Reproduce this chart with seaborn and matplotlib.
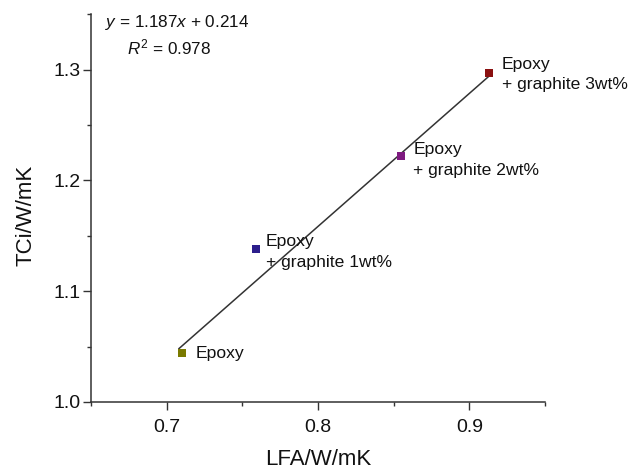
import matplotlib
matplotlib.use("Agg")
import matplotlib.pyplot as plt
import seaborn as sns
import pandas as pd
from matplotlib.ticker import MultipleLocator

sns.set_style("ticks")
plt.rcParams['font.family'] = ['Liberation Sans', 'DejaVu Sans']
plt.rcParams['mathtext.fontset'] = 'custom'
plt.rcParams['mathtext.rm'] = 'Liberation Sans'
plt.rcParams['mathtext.it'] = 'Liberation Sans:italic'

samples = ["Epoxy", "Epoxy\n+ graphite 1wt%", "Epoxy\n+ graphite 2wt%", "Epoxy\n+ graphite 3wt%"]
lfa = [0.710, 0.759, 0.855, 0.913]
tci = [1.044, 1.138, 1.222, 1.297]
colors = ["#7a7a00", "#2c1e8c", "#7e1a80", "#8a1010"]
fit_x = [0.708, 0.913]
fit_y = [1.048, 1.294]
x_ticks = [0.7, 0.8, 0.9]
y_ticks = [1.0, 1.1, 1.2, 1.3]

df = pd.DataFrame({"LFA": lfa, "TCi": tci, "Sample": samples})
fit_df = pd.DataFrame({"x": fit_x, "y": fit_y})

fig = plt.figure(figsize=(6.3, 4.71), dpi=100)
ax = fig.add_axes([0.1444, 0.1465, 0.7206, 0.8235])

sns.lineplot(data=fit_df, x="x", y="y", ax=ax, color="#333333", lw=1.1, legend=False)
sns.scatterplot(data=df, x="LFA", y="TCi", hue="Sample", palette=colors, marker="s",
                s=36, edgecolor="none", ax=ax, legend=False, zorder=3)

offsets = [(10, 0), (7, -2), (8.6, -3), (9.4, -1)]
for (x, y, lab, off) in zip(lfa, tci, samples, offsets):
    ax.annotate(lab, (x, y), xytext=off, textcoords="offset points",
                fontsize=12.6, color="#111111", va="center", ha="left",
                linespacing=1.45)

ax.text(0.031, 0.979, r"$y$ = 1.187$x$ + 0.214", transform=ax.transAxes, fontsize=12.3,
        ha="left", va="center", color="#111111")
ax.text(0.079, 0.913, r"$R^2$ = 0.978", transform=ax.transAxes, fontsize=12.3,
        ha="left", va="center", color="#111111")

ax.set_xlim(0.65, 0.95)
ax.set_ylim(1.0, 1.35)
ax.xaxis.set_minor_locator(MultipleLocator(0.05))
ax.yaxis.set_minor_locator(MultipleLocator(0.05))
ax.set_xticks(x_ticks)
ax.set_xticklabels([f"{v:.1f}" for v in x_ticks])
ax.set_yticks(y_ticks)
ax.set_yticklabels([f"{v:.1f}" for v in y_ticks])
ax.tick_params(axis="both", which="major", direction="out", length=5.5, width=1,
               labelsize=14, colors="#333333", labelcolor="#111111")
ax.tick_params(axis="x", which="major", pad=6.5)
ax.tick_params(axis="y", which="major", pad=2)
ax.tick_params(axis="both", which="minor", direction="out", length=3, width=1, colors="#333333")
for s in ["left", "bottom"]:
    ax.spines[s].set_color("#333333")
    ax.spines[s].set_linewidth(1.1)
sns.despine(ax=ax)
ax.set_xlabel("LFA/W/mK", fontsize=16, color="#111111", va="center")
ax.set_ylabel("TCi/W/mK", fontsize=16, color="#111111", va="center")
ax.xaxis.set_label_coords(0.5, -0.148)
ax.yaxis.set_label_coords(-0.143, 0.48)

fig.savefig("out.png", dpi=100)
